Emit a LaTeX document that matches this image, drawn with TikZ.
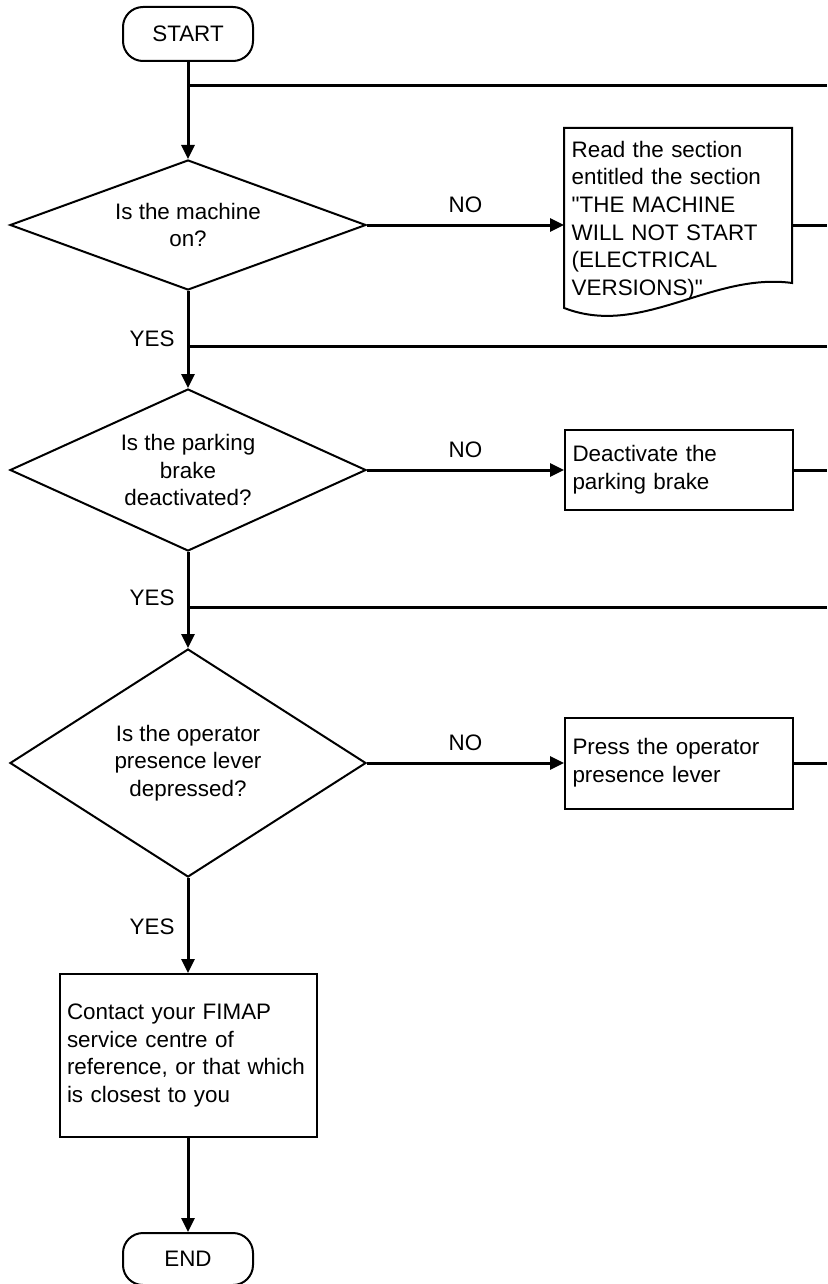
\documentclass[tikz,border=0pt]{standalone}
\usepackage{fontspec}
\newfontfamily\flowfam{Liberation Sans}
\usepackage{tikz}
\usetikzlibrary{arrows.meta,positioning,calc,shapes.geometric}
\newcommand\flowfont{\flowfam\fontsize{22.4}{27.6}\selectfont}
\tikzset{
  termbox/.style={rectangle, rounded corners=20pt, draw, line width=2pt,
                  minimum width=130pt, minimum height=54pt, inner sep=0pt,
                  font=\flowfont},
  askbox/.style={diamond, draw, line width=2pt, aspect=2, inner sep=0pt,
                 minimum width=356pt, align=center, font=\flowfont},
  actbox/.style={rectangle, draw, line width=2pt, minimum width=228pt,
                 text width=213pt, inner xsep=7.5pt, align=left, font=\flowfont},
  docbox/.style={rectangle, text width=213pt, inner xsep=7.5pt, inner ysep=0pt,
                 align=left, font=\flowfont},
  link/.style={line width=3pt},
  arr/.style={link, -{Triangle[length=14pt,width=13pt]}},
  lbl/.style={inner sep=0pt, font=\flowfont},
}

\begin{document}
\begin{tikzpicture}[x=1pt, y=-1pt]
  \useasboundingbox (0,0) rectangle (827,1284);
  \node[termbox] (start) at (188,34) {START};
  \node[askbox, minimum height=130pt, below=97pt of start] (d1) {Is the machine\\on?};
  \node[askbox, minimum height=162pt, below=97pt of d1] (d2) {Is the parking\\brake\\deactivated?};
  \node[askbox, minimum height=228pt, below=96pt of d2] (d3) {Is the operator\\presence lever\\depressed?};
  \node[actbox, text width=242pt, minimum height=163pt, below=95pt of d3] (contact) {Contact your FIMAP\\service centre of\\reference, or that which\\is closest to you};
  \node[termbox, minimum height=52pt, below=94pt of contact] (end) {END};
  \node[docbox, right=197pt of d1, yshift=4.5pt] (read) {Read the section\\entitled the section\\"THE MACHINE\\WILL NOT START\\(ELECTRICAL\\VERSIONS)"};
  \node[actbox, minimum height=80pt, right=197pt of d2] (brake) {Deactivate the\\parking brake};
  \node[actbox, minimum height=91pt, right=197pt of d3] (lever) {Press the operator\\presence lever};
  \draw[line width=2pt] ($(read.center)+(-114,-92.5)$) -- ($(read.center)+(114,-92.5)$)
    -- ($(read.center)+(114,62.5)$)
    .. controls ($(read.center)+(33,51.5)$) and ($(read.center)+(-37,117.5)$) .. ($(read.center)+(-114,87.5)$)
    -- cycle;

  \coordinate (back0) at (827,86);
  \coordinate (back1) at (827,346);
  \coordinate (back2) at (827,607);
  \coordinate (edge) at (827,0);

  \draw[arr] (start) -- (d1);
  \draw[arr] (d1) -- node[lbl, pos=0.57, anchor=base east, xshift=-12pt] {YES} (d2);
  \draw[arr] (d2) -- node[lbl, pos=0.56, anchor=base east, xshift=-12pt] {YES} (d3);
  \draw[arr] (d3) -- node[lbl, pos=0.59, anchor=base east, xshift=-12pt] {YES} (contact);
  \draw[arr] (contact) -- (end);
  \draw[arr] (d1.east) -- node[lbl, above=11pt] {NO} (d1.east -| read.west);
  \draw[arr] (d2.east) -- node[lbl, above=11pt] {NO} (brake);
  \draw[arr] (d3.east) -- node[lbl, above=11pt] {NO} (lever);
  \draw[link] (back0) -- (back0 -| start.south);
  \draw[link] (back1) -- (back1 -| d1.south);
  \draw[link] (back2) -- (back2 -| d2.south);
  \draw[link] (d1.east -| read.east) -- (d1.east -| edge);
  \draw[link] (brake.east) -- (brake.east -| edge);
  \draw[link] (lever.east) -- (lever.east -| edge);
\end{tikzpicture}
\end{document}
